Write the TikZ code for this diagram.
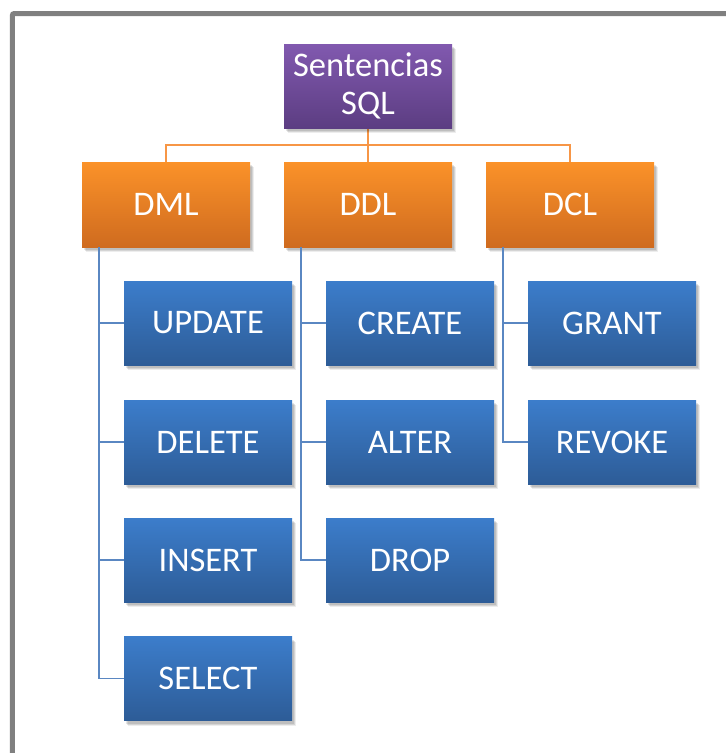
\documentclass[tikz,border=0pt]{standalone}
\usepackage{fontspec}
\setmainfont{Carlito}
\usetikzlibrary{shadows}
\definecolor{framegray}{HTML}{808080}
\definecolor{orangetop}{HTML}{FB9229}
\definecolor{orangebot}{HTML}{CF6B1F}
\definecolor{bluetop}{HTML}{3C7DCB}
\definecolor{bluebot}{HTML}{2D5C97}
\definecolor{purpletop}{HTML}{8159AF}
\definecolor{purplebot}{HTML}{5C3D82}
\definecolor{orangeline}{HTML}{F79646}
\definecolor{blueline}{HTML}{5A87C2}
\tikzset{
  softshadow/.style={
    general shadow={shadow xshift=2pt, shadow yshift=-3pt, shadow scale=1, opacity=0.10, fill=black},
    general shadow={shadow xshift=3pt, shadow yshift=-4pt, opacity=0.10, fill=black},
    general shadow={shadow xshift=4pt, shadow yshift=-5pt, opacity=0.07, fill=black}},
  box/.style={rectangle, minimum width=168pt, minimum height=84pt, inner sep=0pt,
    text=white, align=center, font=\fontsize{34.5}{37.6}\selectfont, softshadow},
  rootbox/.style={box, top color=purpletop, bottom color=purplebot},
  groupbox/.style={box, minimum height=85pt, top color=orangetop, bottom color=orangebot},
  leafbox/.style={box, top color=bluetop, bottom color=bluebot},
  busline/.style={draw=orangeline, line width=2pt},
  leafline/.style={draw=blueline, line width=1.8pt},
}
\begin{document}
\begin{tikzpicture}[x=1pt, y=-1pt]
  \useasboundingbox (0,0) rectangle (726,753);
  \fill[white] (0,0) rectangle (726,753);
  % outer frame (only top and left sides fall inside the page)
  \draw[framegray, line width=5pt, rounded corners=2pt] (12.3,760) -- (12.3,13.5) -- (735,13.5);

  % connectors first, so the boxes sit over their ends
  \coordinate (rootbot) at (368,128);
  \coordinate (dmltop) at (166,162);
  \coordinate (ddltop) at (368,162);
  \coordinate (dcltop) at (570,162);
  \draw[busline] (rootbot) -- ++(0,17) -| (dmltop);
  \draw[busline] (rootbot) -- ++(0,17) -| (dcltop);
  \draw[busline] (rootbot) -- (ddltop);

  % nodes
  \node[rootbox] (sql) at (368,86) {Sentencias\\SQL};
  \node[groupbox] (dml) at (166,204.5) {DML};
  \node[groupbox] (ddl) at (368,204.5) {DDL};
  \node[groupbox] (dcl) at (570,204.5) {DCL};

  \node[leafbox] (update) at (208,323) {UPDATE};
  \node[leafbox] (delete) at (208,442) {DELETE};
  \node[leafbox] (insert) at (208,560) {INSERT};
  \node[leafbox] (select) at (208,678.5) {SELECT};

  \node[leafbox] (create) at (410,323) {CREATE};
  \node[leafbox] (alter) at (410,442) {ALTER};
  \node[leafbox] (drop) at (410,560) {DROP};

  \node[leafbox] (grant) at (612,323) {GRANT};
  \node[leafbox] (revoke) at (612,442) {REVOKE};

  % tree lines from each group down its left side
  \foreach \leaf in {update,delete,insert,select}
    \draw[leafline] ([xshift=17pt]dml.south west) |- (\leaf.west);
  \foreach \leaf in {create,alter,drop}
    \draw[leafline] ([xshift=17pt]ddl.south west) |- (\leaf.west);
  \foreach \leaf in {grant,revoke}
    \draw[leafline] ([xshift=17pt]dcl.south west) |- (\leaf.west);
\end{tikzpicture}
\end{document}
